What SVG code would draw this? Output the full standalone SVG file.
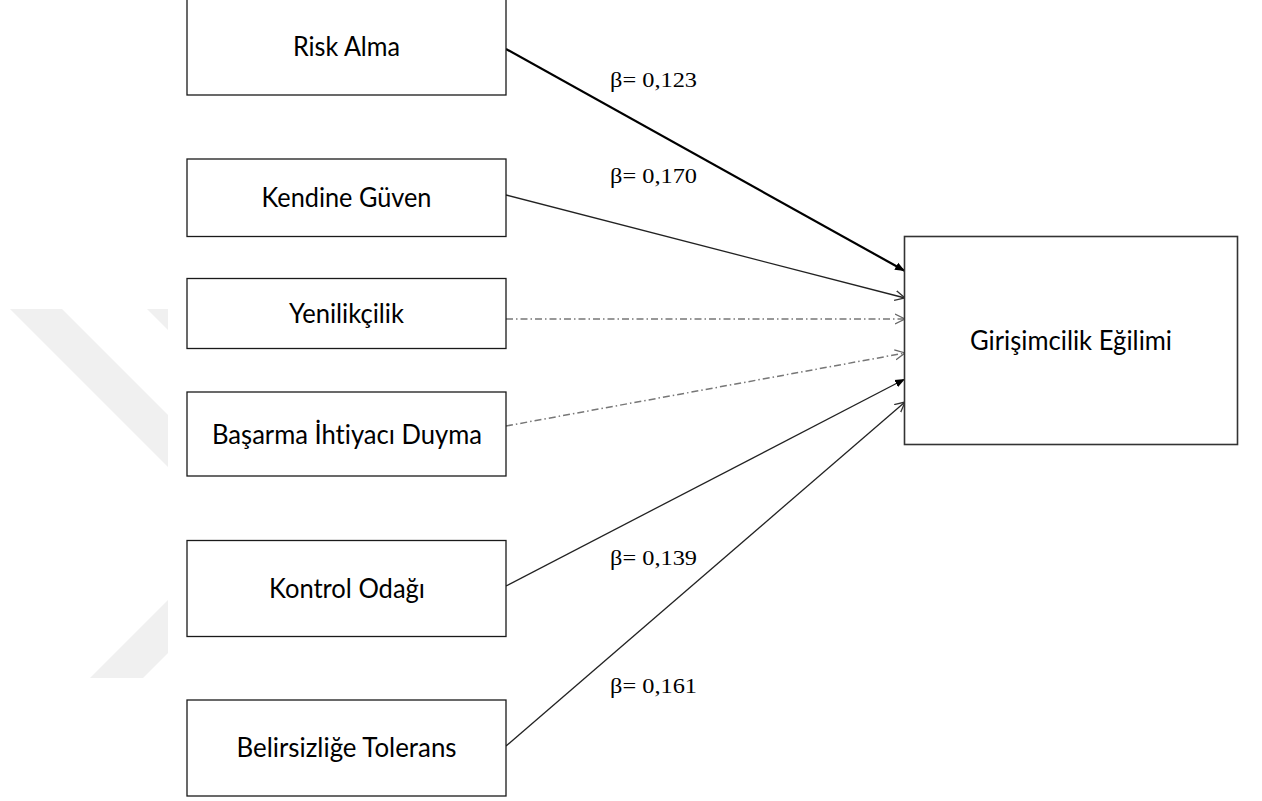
<svg xmlns="http://www.w3.org/2000/svg" width="1262" height="801" viewBox="0 0 1262 801">
  <style>
    .box { fill: #ffffff; stroke: #1a1a1a; stroke-width: 1.3; }
    .lbl { font-family: Lato, "Open Sans", "Liberation Sans", sans-serif; font-size: 26px; fill: #000; text-anchor: middle; font-variant-ligatures: none; }
    .beta { font-family: "Liberation Serif", "Times New Roman", serif; font-size: 21px; fill: #000; }
    .wm { fill: #f0f0f0; }
    .solid { fill: none; stroke: #222; stroke-width: 1.3; }
    .thick { fill: none; stroke: #000; stroke-width: 2.2; }
    .dashdot { fill: none; stroke: #777; stroke-width: 1.5; stroke-dasharray: 7 3 1.5 3; }
  </style>
  <defs>
    <marker id="openArrow" markerUnits="userSpaceOnUse" markerWidth="12" markerHeight="12" refX="10" refY="5" orient="auto" viewBox="0 0 12 10">
      <path d="M0,0 L10,5 L0,10" fill="none" stroke="#333" stroke-width="1.3"/>
    </marker>
    <marker id="openArrowGray" markerUnits="userSpaceOnUse" markerWidth="12" markerHeight="12" refX="10" refY="5" orient="auto" viewBox="0 0 12 10">
      <path d="M0,0 L10,5 L0,10" fill="none" stroke="#666" stroke-width="1.3"/>
    </marker>
    <marker id="filledArrow" markerUnits="userSpaceOnUse" markerWidth="11" markerHeight="9" refX="10" refY="4" orient="auto" viewBox="0 0 11 8">
      <path d="M0,0 L10,4 L0,8 z" fill="#000"/>
    </marker>
  </defs>
  <rect x="0" y="0" width="1262" height="801" fill="#ffffff"/>

  <g id="watermark">
    <polygon class="wm" points="10,309 62,309 168,415 168,467"/>
    <polygon class="wm" points="147,309 168,309 168,330"/>
    <polygon class="wm" points="90,678 143,678 168,653 168,600"/>
  </g>

  <g id="connectors">
    <line class="thick" x1="506" y1="49" x2="905" y2="271" marker-end="url(#filledArrow)"/>
    <line class="solid" x1="506" y1="195" x2="905" y2="298" marker-end="url(#openArrow)"/>
    <line class="dashdot" x1="506" y1="319" x2="905" y2="319" marker-end="url(#openArrowGray)"/>
    <line class="dashdot" x1="506" y1="426" x2="905" y2="353" marker-end="url(#openArrowGray)"/>
    <line class="solid" x1="506" y1="586" x2="905" y2="379" marker-end="url(#filledArrow)"/>
    <line class="solid" x1="506" y1="746" x2="905" y2="402" marker-end="url(#openArrow)"/>
    <text class="beta" x="610" y="87" textLength="87" lengthAdjust="spacingAndGlyphs">β= 0,123</text>
    <text class="beta" x="610" y="183" textLength="87" lengthAdjust="spacingAndGlyphs">β= 0,170</text>
    <text class="beta" x="610" y="565" textLength="87" lengthAdjust="spacingAndGlyphs">β= 0,139</text>
    <text class="beta" x="610" y="693" textLength="87" lengthAdjust="spacingAndGlyphs">β= 0,161</text>
  </g>

  <g id="node-risk-alma">
    <rect class="box" x="187" y="-5" width="319" height="100"/>
    <text class="lbl" x="346.5" y="56" textLength="107" lengthAdjust="spacingAndGlyphs">Risk Alma</text>
  </g>
  <g id="node-kendine-guven">
    <rect class="box" x="187" y="159" width="319" height="77.5"/>
    <text class="lbl" x="346.5" y="207" textLength="170" lengthAdjust="spacingAndGlyphs">Kendine Güven</text>
  </g>
  <g id="node-yenilikcilik">
    <rect class="box" x="187" y="278.5" width="319" height="70"/>
    <text class="lbl" x="346.5" y="323" textLength="115" lengthAdjust="spacingAndGlyphs">Yenilikçilik</text>
  </g>
  <g id="node-basarma">
    <rect class="box" x="187" y="392" width="319" height="84"/>
    <text class="lbl" x="347" y="444" textLength="270" lengthAdjust="spacingAndGlyphs">Başarma İhtiyacı Duyma</text>
  </g>
  <g id="node-kontrol-odagi">
    <rect class="box" x="187" y="540.5" width="319" height="96"/>
    <text class="lbl" x="347" y="598" textLength="156" lengthAdjust="spacingAndGlyphs">Kontrol Odağı</text>
  </g>
  <g id="node-belirsizlige-tolerans">
    <rect class="box" x="187" y="700" width="319" height="96"/>
    <text class="lbl" x="346.5" y="757" textLength="220" lengthAdjust="spacingAndGlyphs">Belirsizliğe Tolerans</text>
  </g>
  <g id="node-girisimcilik-egilimi">
    <rect class="box" x="904.5" y="236.5" width="333" height="208" style="stroke:#333;stroke-width:1.6"/>
    <text class="lbl" x="1071" y="350" textLength="202" lengthAdjust="spacingAndGlyphs">Girişimcilik Eğilimi</text>
  </g>
</svg>
